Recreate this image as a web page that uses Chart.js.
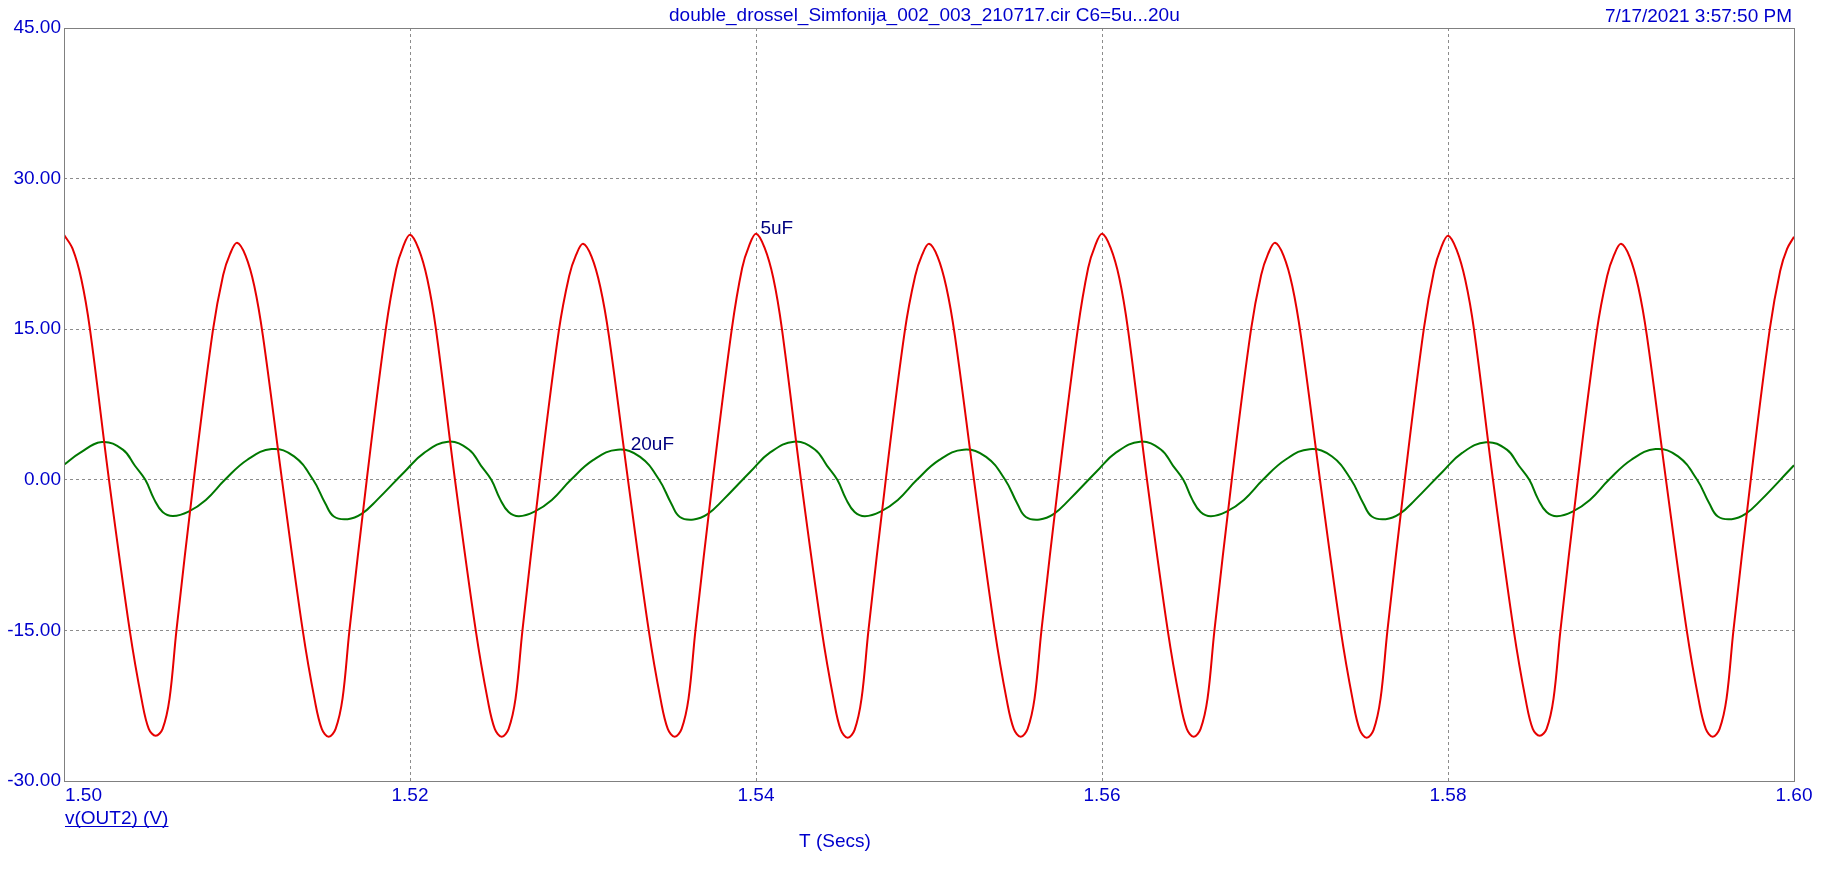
<!DOCTYPE html>
<html>
<head>
<meta charset="utf-8">
<title>v(OUT2)</title>
<script src="https://cdn.jsdelivr.net/npm/chart.js@4.4.1/dist/chart.umd.min.js"></script>
<style>
  html, body { margin: 0; padding: 0; background: #fff; }
  canvas { display: block; }
</style>
</head>
<body>
<canvas id="plot" width="1844" height="870"></canvas>
<script>
// texts
const titleText = 'double_drossel_Simfonija_002_003_210717.cir C6=5u...20u';
const dateText = '7/17/2021 3:57:50 PM';
const yAxisName = 'v(OUT2) (V)';
const xAxisName = 'T (Secs)';
const seriesNames = ['5uF', '20uF'];

// axis ticks
const xTicks = [1.50, 1.52, 1.54, 1.56, 1.58, 1.60];
const yTicks = [45, 30, 15, 0, -15, -30];

// C6 = 5uF  (time in s, value in V)
const redT = [
  1.5000, 1.5005, 1.5010, 1.5015, 1.5026, 1.5038, 1.5045, 1.5049, 1.5053, 1.5057, 1.5061, 1.5065, 1.5075, 1.5086, 1.5092, 1.5096,
  1.5100, 1.5105, 1.5110, 1.5115, 1.5126, 1.5138, 1.5145, 1.5149, 1.5153, 1.5157, 1.5161, 1.5165, 1.5175, 1.5186, 1.5192, 1.5196,
  1.5200, 1.5205, 1.5210, 1.5215, 1.5226, 1.5238, 1.5245, 1.5249, 1.5253, 1.5257, 1.5261, 1.5265, 1.5275, 1.5286, 1.5292, 1.5296,
  1.5300, 1.5305, 1.5310, 1.5315, 1.5326, 1.5338, 1.5345, 1.5349, 1.5353, 1.5357, 1.5361, 1.5365, 1.5375, 1.5386, 1.5392, 1.5396,
  1.5400, 1.5405, 1.5410, 1.5415, 1.5426, 1.5438, 1.5445, 1.5449, 1.5453, 1.5457, 1.5461, 1.5465, 1.5475, 1.5486, 1.5492, 1.5496,
  1.5500, 1.5505, 1.5510, 1.5515, 1.5526, 1.5538, 1.5545, 1.5549, 1.5553, 1.5557, 1.5561, 1.5565, 1.5575, 1.5586, 1.5592, 1.5596,
  1.5600, 1.5605, 1.5610, 1.5615, 1.5626, 1.5638, 1.5645, 1.5649, 1.5653, 1.5657, 1.5661, 1.5665, 1.5675, 1.5686, 1.5692, 1.5696,
  1.5700, 1.5705, 1.5710, 1.5715, 1.5726, 1.5738, 1.5745, 1.5749, 1.5753, 1.5757, 1.5761, 1.5765, 1.5775, 1.5786, 1.5792, 1.5796,
  1.5800, 1.5805, 1.5810, 1.5815, 1.5826, 1.5838, 1.5845, 1.5849, 1.5853, 1.5857, 1.5861, 1.5865, 1.5875, 1.5886, 1.5892, 1.5896,
  1.5900, 1.5905, 1.5910, 1.5915, 1.5926, 1.5938, 1.5945, 1.5949, 1.5953, 1.5957, 1.5961, 1.5965, 1.5975, 1.5986, 1.5992, 1.5996,
  1.6000
];
const redV = [
  24.4, 23.0, 20.0, 15.0, 0.0, -15.0, -22.0, -24.8, -25.5, -24.8, -21.8, -15.0, 0.0, 14.8, 20.4, 22.5,
  23.6, 22.3, 19.3, 14.3, 0.0, -15.0, -22.0, -24.8, -25.6, -24.8, -21.8, -15.0, 0.0, 15.0, 21.0, 23.2,
  24.4, 23.0, 20.0, 15.0, 0.0, -15.0, -22.0, -24.8, -25.6, -24.8, -21.8, -15.0, 0.0, 14.8, 20.3, 22.4,
  23.5, 22.2, 19.2, 14.3, 0.0, -15.0, -22.0, -24.8, -25.6, -24.8, -21.8, -15.0, 0.0, 15.0, 21.1, 23.3,
  24.5, 23.1, 20.1, 15.0, 0.0, -15.0, -22.0, -24.9, -25.7, -24.9, -21.8, -15.0, 0.0, 14.8, 20.3, 22.4,
  23.5, 22.2, 19.2, 14.3, 0.0, -15.0, -22.0, -24.8, -25.6, -24.8, -21.8, -15.0, 0.0, 15.0, 21.1, 23.3,
  24.5, 23.1, 20.1, 15.0, 0.0, -15.0, -22.0, -24.8, -25.6, -24.8, -21.8, -15.0, 0.0, 14.8, 20.4, 22.5,
  23.6, 22.3, 19.3, 14.3, 0.0, -15.0, -22.0, -24.9, -25.7, -24.9, -21.8, -15.0, 0.0, 15.0, 20.9, 23.1,
  24.3, 22.9, 19.9, 15.0, 0.0, -15.0, -22.0, -24.8, -25.5, -24.8, -21.8, -15.0, 0.0, 14.8, 20.3, 22.4,
  23.5, 22.2, 19.2, 14.3, 0.0, -15.0, -22.0, -24.8, -25.6, -24.8, -21.8, -15.0, 0.0, 15.0, 20.8, 23.0,
  24.2
];

// C6 = 20uF
const greenT = [
  1.5000, 1.5009,
  1.5022, 1.5034, 1.5041, 1.5047, 1.5052, 1.5057, 1.5063, 1.5072, 1.5082, 1.5093, 1.5106,
  1.5120, 1.5133, 1.5144, 1.5151, 1.5156, 1.5164, 1.5172, 1.5181, 1.5197, 1.5208,
  1.5222, 1.5234, 1.5241, 1.5247, 1.5252, 1.5257, 1.5263, 1.5272, 1.5282, 1.5293, 1.5306,
  1.5320, 1.5333, 1.5344, 1.5351, 1.5356, 1.5364, 1.5372, 1.5381, 1.5397, 1.5408,
  1.5422, 1.5434, 1.5441, 1.5447, 1.5452, 1.5457, 1.5463, 1.5472, 1.5482, 1.5493, 1.5506,
  1.5520, 1.5533, 1.5544, 1.5551, 1.5556, 1.5564, 1.5572, 1.5581, 1.5597, 1.5608,
  1.5622, 1.5634, 1.5641, 1.5647, 1.5652, 1.5657, 1.5663, 1.5672, 1.5682, 1.5693, 1.5706,
  1.5720, 1.5733, 1.5744, 1.5751, 1.5756, 1.5764, 1.5772, 1.5781, 1.5797, 1.5808,
  1.5822, 1.5834, 1.5841, 1.5847, 1.5852, 1.5857, 1.5863, 1.5872, 1.5882, 1.5893, 1.5906,
  1.5920, 1.5933, 1.5944, 1.5951, 1.5956, 1.5964, 1.5972, 1.5981, 1.5997, 1.6000
];
const greenV = [
  1.50, 2.66,
  3.76, 3.00, 1.40, 0.00, -1.90, -3.20, -3.60, -3.16, -2.00, 0.00, 2.00,
  3.06, 2.33, 0.00, -2.33, -3.66, -3.92, -3.40, -2.00, 0.83, 2.66,
  3.80, 3.02, 1.42, 0.00, -1.90, -3.20, -3.62, -3.16, -2.00, 0.00, 1.98,
  3.00, 2.28, 0.00, -2.35, -3.70, -3.95, -3.42, -2.00, 0.85, 2.70,
  3.80, 3.02, 1.42, 0.00, -1.90, -3.20, -3.62, -3.16, -2.00, 0.00, 1.98,
  3.00, 2.28, 0.00, -2.35, -3.70, -3.95, -3.42, -2.00, 0.85, 2.70,
  3.80, 3.02, 1.42, 0.00, -1.90, -3.20, -3.62, -3.16, -2.00, 0.00, 2.00,
  3.05, 2.32, 0.00, -2.33, -3.66, -3.92, -3.40, -2.00, 0.83, 2.66,
  3.74, 3.00, 1.40, 0.00, -1.90, -3.20, -3.62, -3.16, -2.00, 0.00, 2.00,
  3.06, 2.33, 0.00, -2.33, -3.66, -3.92, -3.40, -2.00, 0.90, 1.45
];

// where the two trace names sit (data coords)
const labelAt = [[1.5402, 24.5], [1.5327, 3.0]];

const toXY = (ts, vs) => ts.map((t, i) => ({ x: t, y: vs[i] }));

const FONT = '"Liberation Sans", Arial, sans-serif';
const BLUE = '#0000cc';
const GRID = '#8c8c8c';

Chart.defaults.font.family = FONT;
Chart.defaults.font.size = 19;

// plain texts, frame and x tick labels, the way the simulator prints them
const decorations = {
    id: 'decorations',
    afterDraw(chart) {
        const ctx = chart.ctx;
        const a = chart.chartArea;
        const xs = chart.scales.x;
        const ys = chart.scales.y;
        ctx.save();

        // frame
        ctx.strokeStyle = '#808080';
        ctx.lineWidth = 1;
        ctx.strokeRect(Math.round(a.left) + 0.5, Math.round(a.top) + 0.5,
            Math.round(a.right - a.left), Math.round(a.bottom - a.top));

        ctx.font = '19px ' + FONT;
        ctx.fillStyle = BLUE;
        ctx.textBaseline = 'alphabetic';

        ctx.textAlign = 'left';
        ctx.fillText(titleText, 669, 21);
        ctx.textAlign = 'right';
        ctx.fillText(dateText, 1792, 22);

        // x tick labels: first one starts at the axis, the rest are centred
        xTicks.forEach((t, i) => {
            ctx.textAlign = i === 0 ? 'left' : 'center';
            const px = xs.getPixelForValue(t);
            ctx.fillText(t.toFixed(2), i === 0 ? px + 1 : px, a.bottom + 20);
        });

        // y axis name, underlined
        ctx.textAlign = 'left';
        const yx = a.left + 1, yy = a.bottom + 43;
        ctx.fillText(yAxisName, yx, yy);
        const w = ctx.measureText(yAxisName).width;
        ctx.fillRect(yx, yy + 2, w, 1);

        ctx.textAlign = 'center';
        ctx.fillText(xAxisName, 835, a.bottom + 66);

        // trace names
        ctx.fillStyle = '#000080';
        ctx.textAlign = 'left';
        seriesNames.forEach((name, i) => {
            const p = labelAt[i];
            ctx.fillText(name, xs.getPixelForValue(p[0]) + 1, ys.getPixelForValue(p[1]));
        });
        ctx.restore();
    }
};

const edgeGrid = (edges) => (c) => (c.tick && edges.includes(c.tick.value)) ? 'rgba(0,0,0,0)' : GRID;

new Chart(document.getElementById('plot'), {
    type: 'line',
    data: {
        datasets: [{
            label: seriesNames[0],
            data: toXY(redT, redV),
            borderColor: '#e60000',
            borderWidth: 2,
            pointRadius: 0,
            tension: 0.35,
            fill: false
        }, {
            label: seriesNames[1],
            data: toXY(greenT, greenV),
            borderColor: '#007800',
            borderWidth: 2,
            pointRadius: 0,
            tension: 0.42,
            fill: false
        }]
    },
    options: {
        responsive: false,
        animation: false,
        devicePixelRatio: 1,
        layout: { padding: { top: 28, right: 50, bottom: 0, left: 0 } },
        plugins: {
            legend: { display: false },
            title: { display: false },
            tooltip: { enabled: false }
        },
        scales: {
            x: {
                type: 'linear',
                min: 1.5,
                max: 1.6,
                afterFit: (s) => { s.height = 89; },
                afterBuildTicks: (s) => { s.ticks = xTicks.map(v => ({ value: v })); },
                ticks: { display: false },
                grid: { color: edgeGrid([1.5, 1.6]), lineWidth: 1, drawTicks: false },
                border: { display: false, dash: [3, 3] }
            },
            y: {
                min: -30,
                max: 45,
                afterFit: (s) => { s.width = 64; },
                afterBuildTicks: (s) => { s.ticks = yTicks.map(v => ({ value: v })); },
                ticks: {
                    color: BLUE,
                    padding: 3,
                    font: { size: 19 },
                    callback: (v) => Number(v).toFixed(2)
                },
                grid: { color: edgeGrid([45, -30]), lineWidth: 1, drawTicks: false },
                border: { display: false, dash: [3, 3] }
            }
        }
    },
    plugins: [decorations]
});
</script>
</body>
</html>
